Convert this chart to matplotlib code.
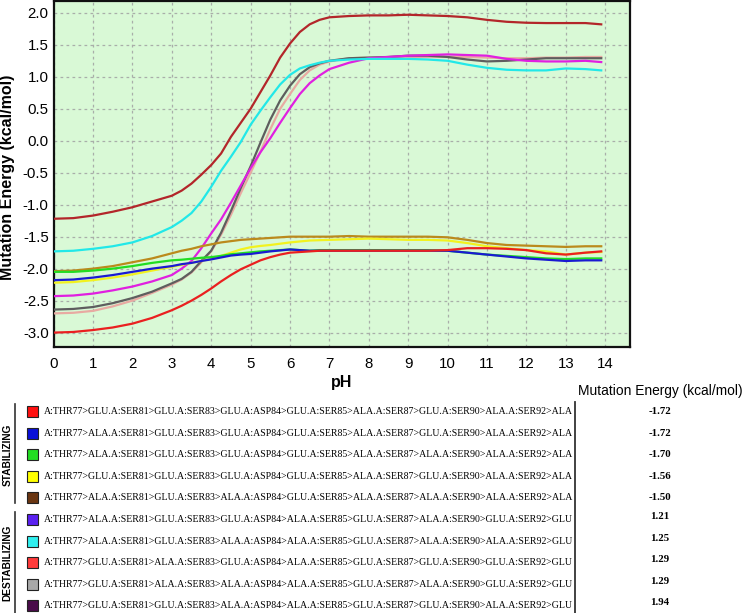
import matplotlib
matplotlib.use('Agg')
import matplotlib.pyplot as plt
from matplotlib.patches import Rectangle
from matplotlib.lines import Line2D

# ---------------- data ----------------
ph = [0, 0.5, 1, 1.5, 2, 2.5, 3, 3.25, 3.5, 3.75, 4, 4.25, 4.5, 4.75, 5, 5.25,
      5.5, 5.75, 6, 6.25, 6.5, 6.75, 7, 7.5, 8, 8.5, 9, 9.5, 10, 10.5, 11,
      11.5, 12, 12.5, 13, 13.5, 13.9]

e_firebrick = [-1.22, -1.21, -1.17, -1.11, -1.04, -0.95, -0.86, -0.78, -0.67, -0.53,
               -0.38, -0.20, 0.06, 0.28, 0.50, 0.76, 1.02, 1.30, 1.52, 1.70, 1.82,
               1.89, 1.93, 1.95, 1.96, 1.96, 1.97, 1.96, 1.95, 1.93, 1.89, 1.86,
               1.845, 1.84, 1.84, 1.84, 1.82]
e_cyan = [-1.73, -1.72, -1.69, -1.65, -1.59, -1.49, -1.35, -1.25, -1.13, -0.95,
          -0.72, -0.47, -0.25, -0.02, 0.25, 0.47, 0.68, 0.88, 1.03, 1.13, 1.18,
          1.22, 1.25, 1.27, 1.28, 1.28, 1.28, 1.27, 1.25, 1.19, 1.14, 1.11,
          1.10, 1.10, 1.13, 1.12, 1.10]
e_darkgray = [-2.64, -2.63, -2.60, -2.54, -2.46, -2.36, -2.23, -2.16, -2.05, -1.88,
              -1.72, -1.44, -1.10, -0.74, -0.40, -0.03, 0.33, 0.63, 0.86, 1.04, 1.15,
              1.21, 1.25, 1.29, 1.30, 1.31, 1.33, 1.33, 1.31, 1.27, 1.24, 1.25,
              1.27, 1.29, 1.29, 1.29, 1.29]
e_pink = [-2.70, -2.69, -2.66, -2.59, -2.50, -2.38, -2.25, -2.17, -2.06, -1.90,
          -1.73, -1.47, -1.16, -0.82, -0.50, -0.17, 0.18, 0.50, 0.73, 0.95, 1.10,
          1.19, 1.24, 1.29, 1.30, 1.30, 1.31, 1.31, 1.31, 1.31, 1.30, 1.29,
          1.29, 1.30, 1.30, 1.31, 1.31]
e_magenta = [-2.43, -2.42, -2.39, -2.34, -2.28, -2.20, -2.10, -2.00, -1.88, -1.68,
             -1.45, -1.23, -0.97, -0.70, -0.43, -0.18, 0.04, 0.28, 0.51, 0.73, 0.90,
             1.02, 1.12, 1.22, 1.29, 1.31, 1.33, 1.34, 1.35, 1.34, 1.33, 1.28,
             1.25, 1.24, 1.24, 1.25, 1.23]
e_gold = [-2.04, -2.03, -2.00, -1.96, -1.90, -1.84, -1.76, -1.72, -1.69, -1.65,
          -1.62, -1.59, -1.57, -1.55, -1.54, -1.53, -1.52, -1.51, -1.50, -1.50, -1.50,
          -1.50, -1.50, -1.49, -1.50, -1.50, -1.50, -1.50, -1.51, -1.55, -1.60, -1.63,
          -1.64, -1.65, -1.66, -1.65, -1.65]
e_yellow = [-2.22, -2.21, -2.18, -2.14, -2.09, -2.03, -1.97, -1.94, -1.91, -1.88,
            -1.845, -1.80, -1.75, -1.70, -1.665, -1.645, -1.63, -1.61, -1.59, -1.575, -1.56,
            -1.555, -1.55, -1.54, -1.53, -1.54, -1.55, -1.55, -1.56, -1.60, -1.65, -1.68,
            -1.71, -1.73, -1.78, -1.75, -1.74]
e_green = [-2.05, -2.05, -2.03, -2.00, -1.96, -1.91, -1.87, -1.86, -1.845, -1.83,
           -1.82, -1.80, -1.775, -1.76, -1.745, -1.73, -1.72, -1.71, -1.70, -1.71, -1.72,
           -1.71, -1.71, -1.71, -1.71, -1.71, -1.71, -1.71, -1.72, -1.75, -1.78, -1.80,
           -1.82, -1.84, -1.85, -1.84, -1.84]
e_blue = [-2.18, -2.17, -2.14, -2.10, -2.05, -2.00, -1.96, -1.93, -1.91, -1.88,
          -1.855, -1.825, -1.795, -1.78, -1.77, -1.75, -1.73, -1.715, -1.70, -1.71, -1.72,
          -1.72, -1.72, -1.72, -1.72, -1.72, -1.72, -1.72, -1.72, -1.75, -1.78, -1.81,
          -1.84, -1.86, -1.88, -1.87, -1.87]
e_red = [-3.00, -2.99, -2.96, -2.92, -2.86, -2.77, -2.65, -2.58, -2.50, -2.41,
         -2.31, -2.20, -2.10, -2.01, -1.94, -1.87, -1.82, -1.78, -1.75, -1.74, -1.73,
         -1.72, -1.72, -1.72, -1.72, -1.72, -1.72, -1.72, -1.71, -1.68, -1.68, -1.69,
         -1.71, -1.76, -1.78, -1.75, -1.73]

series = [e_pink, e_darkgray, e_magenta, e_cyan, e_firebrick,
          e_gold, e_yellow, e_green, e_blue, e_red]
series_colors = ['#e8aaa2', '#5e5e5e', '#e020e0', '#22e8e8', '#b3262a',
                 '#bb8a1c', '#f2f21e', '#22dd22', '#1a1ad2', '#ea2020']

x_ticks = list(range(0, 15))
y_ticks = [-3.0, -2.5, -2.0, -1.5, -1.0, -0.5, 0.0, 0.5, 1.0, 1.5, 2.0]

mutations = [
    "A:THR77>GLU.A:SER81>GLU.A:SER83>GLU.A:ASP84>GLU.A:SER85>ALA.A:SER87>GLU.A:SER90>ALA.A:SER92>ALA",
    "A:THR77>ALA.A:SER81>GLU.A:SER83>GLU.A:ASP84>GLU.A:SER85>ALA.A:SER87>GLU.A:SER90>ALA.A:SER92>ALA",
    "A:THR77>ALA.A:SER81>GLU.A:SER83>GLU.A:ASP84>GLU.A:SER85>ALA.A:SER87>ALA.A:SER90>ALA.A:SER92>ALA",
    "A:THR77>GLU.A:SER81>GLU.A:SER83>GLU.A:ASP84>GLU.A:SER85>ALA.A:SER87>GLU.A:SER90>ALA.A:SER92>ALA",
    "A:THR77>ALA.A:SER81>GLU.A:SER83>ALA.A:ASP84>GLU.A:SER85>ALA.A:SER87>ALA.A:SER90>ALA.A:SER92>ALA",
    "A:THR77>ALA.A:SER81>GLU.A:SER83>GLU.A:ASP84>ALA.A:SER85>GLU.A:SER87>ALA.A:SER90>GLU.A:SER92>GLU",
    "A:THR77>ALA.A:SER81>GLU.A:SER83>ALA.A:ASP84>ALA.A:SER85>GLU.A:SER87>ALA.A:SER90>ALA.A:SER92>GLU",
    "A:THR77>GLU.A:SER81>ALA.A:SER83>GLU.A:ASP84>ALA.A:SER85>GLU.A:SER87>GLU.A:SER90>GLU.A:SER92>GLU",
    "A:THR77>GLU.A:SER81>ALA.A:SER83>ALA.A:ASP84>ALA.A:SER85>GLU.A:SER87>ALA.A:SER90>GLU.A:SER92>GLU",
    "A:THR77>GLU.A:SER81>GLU.A:SER83>ALA.A:ASP84>ALA.A:SER85>GLU.A:SER87>GLU.A:SER90>ALA.A:SER92>GLU",
]
mutation_energies = [-1.72, -1.72, -1.70, -1.56, -1.50, 1.21, 1.25, 1.29, 1.29, 1.94]
legend_colors = ['#ff1010', '#0a10d8', '#22dd22', '#ffff00', '#6a3612',
                 '#5a20f0', '#30f0f0', '#ff3a3a', '#a8a8a8', '#4a0c4a']
group_names = ['STABILIZING', 'DESTABILIZING']

# ---------------- figure ----------------
W, H = 742, 613
fig = plt.figure(figsize=(W / 100, H / 100), dpi=100)
fig.patch.set_facecolor('white')


def fx(x):
    return x / W


def fy(y):
    return 1 - y / H


sans = 'Liberation Sans'
serif = 'Liberation Serif'

ax = fig.add_axes([fx(53.6), fy(347), fx(630) - fx(53.6), fy(1) - fy(347)])
ax.set_facecolor('#d9f9d6')
for vals, col in zip(series, series_colors):
    ax.plot(ph, vals, color=col, lw=1.6, solid_joinstyle='round', zorder=3)

ax.set_xlim(0, 14.63)
ax.set_ylim(-3.225, 2.185)
ax.set_xticks(x_ticks)
ax.set_xticklabels([str(t) for t in x_ticks], fontfamily=sans, fontsize=10.8)
ax.set_yticks(y_ticks)
ax.set_yticklabels(['%.1f' % t for t in y_ticks], fontfamily=sans, fontsize=10.8)
ax.tick_params(axis='both', length=0)
ax.tick_params(axis='x', pad=7.5)
ax.tick_params(axis='y', pad=3.5)
ax.grid(True, color='#a9aea9', ls=(0, (2.2, 2.6)), lw=0.9, zorder=1)
ax.set_axisbelow(True)
for sp in ax.spines.values():
    sp.set_linewidth(1.6)
    sp.set_color('#111111')

ax.set_xlabel('pH', fontfamily=sans, fontweight='bold', fontsize=11.5, va='center')
ax.xaxis.set_label_coords(0.5, (347 - 383) / 346)
ax.set_ylabel('Mutation Energy (kcal/mol)', fontfamily=sans, fontweight='bold',
              fontsize=11.5, va='center')
ax.yaxis.set_label_coords((8.0 - 53.6) / 576.4, 0.49)

# ---------------- legend table ----------------
fig.text(fx(578), fy(391), 'Mutation Energy (kcal/mol)', fontfamily=sans,
         fontsize=9.9, ha='left', va='center')

row0, drow = 411.5, 21.6
for i, (txt, val, col) in enumerate(zip(mutations, mutation_energies, legend_colors)):
    yc = row0 + i * drow
    fig.patches.append(Rectangle((fx(27), fy(yc + 5.5)), 11 / W, 11 / H,
                                 transform=fig.transFigure, facecolor=col,
                                 edgecolor='#222222', lw=0.8))
    fig.text(fx(44), fy(yc), txt, fontfamily=serif, fontsize=7.1,
             ha='left', va='center')
    yv = yc if i < 5 else yc - 3
    fig.text(fx(660), fy(yv), '%.2f' % val, fontfamily=serif, fontsize=7.8,
             fontweight='bold', ha='center', va='center')

# vertical separator right of the mutation strings
fig.lines.append(Line2D([fx(575), fx(575)], [fy(402), fy(613)],
                        transform=fig.transFigure, color='#333333', lw=1.3))
# group brackets
fig.lines.append(Line2D([fx(15), fx(15)], [fy(404), fy(503)],
                        transform=fig.transFigure, color='#333333', lw=1.2))
fig.lines.append(Line2D([fx(15), fx(15)], [fy(512), fy(613)],
                        transform=fig.transFigure, color='#333333', lw=1.2))
fig.text(fx(7.5), fy(455), group_names[0], rotation=90, fontfamily=sans,
         fontweight='bold', fontsize=7.3, ha='center', va='center')
fig.text(fx(7.5), fy(563), group_names[1], rotation=90, fontfamily=sans,
         fontweight='bold', fontsize=7.3, ha='center', va='center')

fig.savefig('out.png', dpi=100, facecolor='white')
